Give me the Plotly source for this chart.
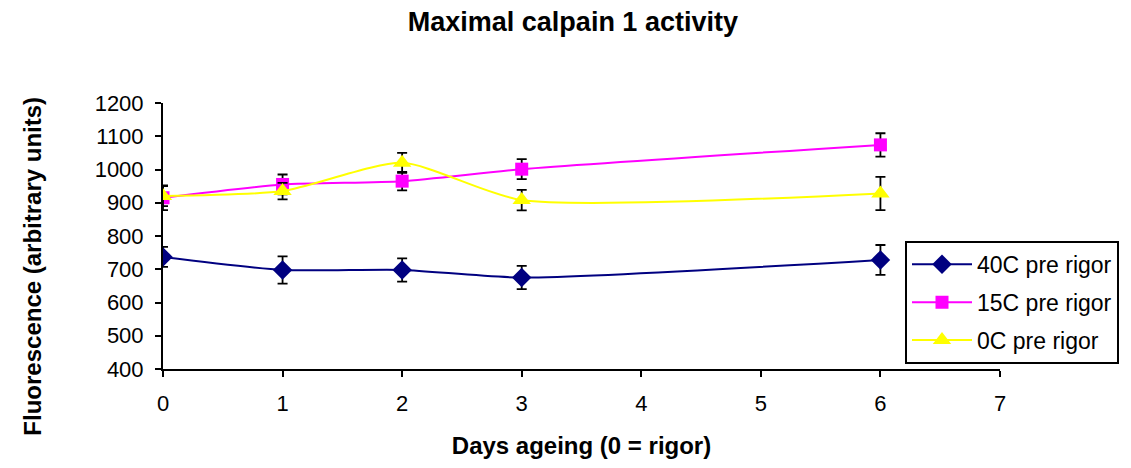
import plotly.graph_objects as go

days = [0, 1, 2, 3, 6]
series_names = ["40C pre rigor", "15C pre rigor", "0C pre rigor"]
vals_40 = [737, 698, 698, 675, 728]
err_40 = [30, 41, 35, 35, 45]
vals_15 = [915, 955, 965, 1001, 1074]
err_15 = [37, 30, 28, 30, 35]
vals_0 = [920, 935, 1020, 908, 928]
err_0 = [30, 25, 30, 31, 50]
x_ticks = [0, 1, 2, 3, 4, 5, 6, 7]
y_ticks = [400, 500, 600, 700, 800, 900, 1000, 1100, 1200]

FONT = "Arial, Liberation Sans, sans-serif"

styles = [
    dict(color="#000080", symbol="diamond", size=15),
    dict(color="#FF00FF", symbol="square", size=13),
    dict(color="#FFFF00", symbol="triangle-up", size=16),
]

fig = go.Figure()
for i, (name, v, e, st) in enumerate(zip(series_names, [vals_40, vals_15, vals_0],
                                         [err_40, err_15, err_0], styles)):
    fig.add_trace(go.Scatter(
        x=days, y=v, name=name, mode="lines+markers", legendgroup=f"g{i}",
        line=dict(color=st["color"], width=2, shape="spline", smoothing=0.65),
        marker=dict(color=st["color"], symbol=st["symbol"], size=st["size"]),
        error_y=dict(type="data", array=e, visible=True, color="black", thickness=1.8, width=5),
    ))

fig.update_layout(
    width=1123, height=460,
    paper_bgcolor="white", plot_bgcolor="white",
    margin=dict(l=155, r=131, t=95, b=99),
    font=dict(family=FONT, size=22, color="black"),
    title=dict(text="<b>Maximal calpain 1 activity</b>", x=0.503, xanchor="center",
               y=0.970, yanchor="middle", font=dict(size=27, family=FONT)),
    xaxis=dict(range=[0, 7], tickvals=x_ticks, showgrid=False, zeroline=False,
               showline=True, linecolor="black", linewidth=2,
               ticks="outside", ticklen=6, tickwidth=2, tickcolor="black",
               ticklabelstandoff=8,
               title=dict(text="<b>Days ageing (0 = rigor)</b>", font=dict(size=24), standoff=22)),
    yaxis=dict(range=[400, 1200], tickvals=y_ticks, showgrid=False, zeroline=False,
               showline=True, linecolor="black", linewidth=2,
               ticks="outside", ticklen=6, tickwidth=2, tickcolor="black",
               ticklabelstandoff=7),
    annotations=[dict(text="<b>Fluorescence (arbitrary units)</b>", textangle=-90,
                      xref="paper", yref="paper", x=-0.157, y=0.387,
                      xanchor="center", yanchor="middle", showarrow=False,
                      font=dict(size=24))],
    legend=dict(x=0.8865, y=0.482, xanchor="left", yanchor="top",
                bordercolor="black", borderwidth=2, bgcolor="white",
                font=dict(size=23), traceorder="grouped", tracegroupgap=5,
                itemsizing="trace", itemwidth=60),
    showlegend=True,
)

fig.write_html("out.html")
